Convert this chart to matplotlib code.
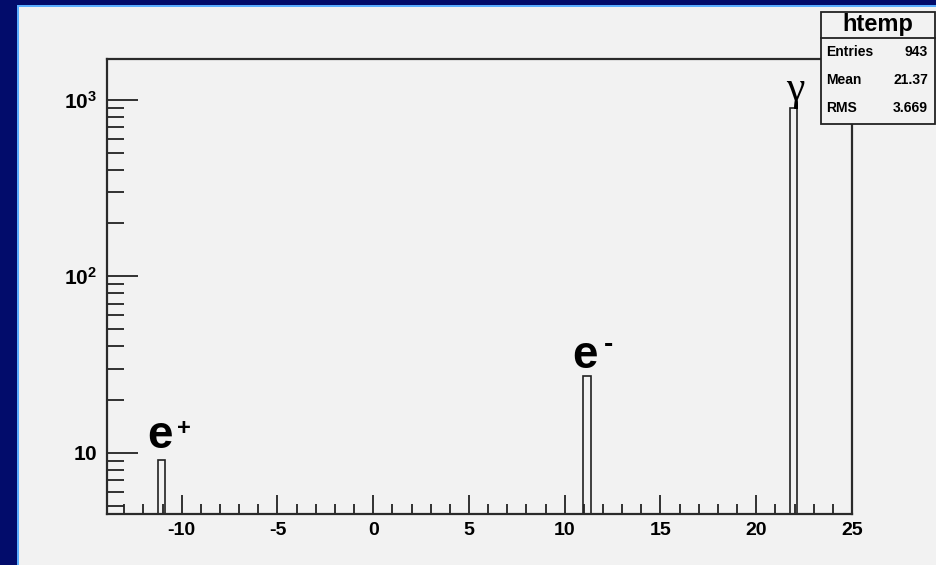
import matplotlib
matplotlib.use("Agg")
import matplotlib.pyplot as plt
from matplotlib.patches import Rectangle
from matplotlib.ticker import FixedLocator, FixedFormatter, LogLocator, MultipleLocator, NullFormatter

plt.rcParams['font.family'] = ['Liberation Sans', 'DejaVu Sans']
plt.rcParams['mathtext.fontset'] = 'custom'
plt.rcParams['mathtext.rm'] = 'Liberation Sans'
plt.rcParams['mathtext.bf'] = 'Liberation Sans:bold'

# histogram content (htemp)
centers = [-11.05, 11.15, 21.95]
counts = [9, 27, 900]
particles = ['e', 'e', 'γ']
charges = ['+', '-', '']
xticks = [-10, -5, 0, 5, 10, 15, 20, 25]
yticks = [10, 100, 1000]
yticklabels = [r'$\mathbf{10}$', r'$\mathbf{10^{2}}$', r'$\mathbf{10^{3}}$']
stats_names = ["Entries", "Mean", "RMS"]
stats_vals = ["943", "21.37", "3.669"]

W, H = 936, 565
fig = plt.figure(figsize=(W / 100, H / 100), dpi=100)
fig.patch.set_facecolor('#020c6b')

canvas = '#f2f2f2'
# canvas + light blue edge
fig.patches.append(Rectangle((17 / W, 0), 1, (H - 5) / H, transform=fig.transFigure,
                             facecolor='#5aaeff', edgecolor='none', zorder=-3))
fig.patches.append(Rectangle((19 / W, 0), 1, (H - 7) / H, transform=fig.transFigure,
                             facecolor=canvas, edgecolor='none', zorder=-2))

ax = fig.add_axes([107 / W, 51 / H, 745 / W, 455 / H])
ax.set_facecolor(canvas)

ax.bar(centers, counts, width=0.4, bottom=0.1, fill=False, edgecolor='#222222', linewidth=1.2)
ax.set_yscale('log')
ax.set_xlim(-13.9, 25)
ax.set_ylim(4.5, 1700)

for sp in ax.spines.values():
    sp.set_linewidth(1.6)
    sp.set_color('#2a2a2a')

ax.xaxis.set_major_locator(FixedLocator(xticks))
ax.xaxis.set_minor_locator(MultipleLocator(1))
ax.set_xticklabels([str(t) for t in xticks], fontsize=14, fontweight='bold')
ax.yaxis.set_major_locator(FixedLocator(yticks))
ax.yaxis.set_major_formatter(FixedFormatter(yticklabels))
ax.yaxis.set_minor_locator(LogLocator(base=10, subs=range(2, 10)))
ax.yaxis.set_minor_formatter(NullFormatter())

ax.tick_params(axis='x', which='major', direction='in', length=14, width=1.3, color='#222222', pad=6)
ax.tick_params(axis='x', which='minor', direction='in', length=7, width=1.3, color='#222222')
ax.tick_params(axis='y', which='major', direction='in', length=22, width=1.3, color='#222222', labelsize=15, pad=7)
ax.tick_params(axis='y', which='minor', direction='in', length=12, width=1.3, color='#222222')
ax.tick_params(top=False, right=False, which='both')

# particle labels above each peak (offsets in points)
for c, n, p, q in zip(centers, counts, particles, charges):
    if p == 'γ':
        ax.annotate(p, xy=(c, n), xytext=(1, -1), textcoords='offset points',
                    ha='center', va='bottom', fontsize=30, family='Liberation Serif')
        continue
    lift = 9.5 if q == '+' else 6.5
    ax.annotate(p, xy=(c, n), xytext=(-1, lift), textcoords='offset points',
                ha='center', va='baseline', fontsize=33, fontweight='bold')
    ax.annotate(q, xy=(c, n), xytext=(16, 23), textcoords='offset points',
                ha='center', va='center', fontsize=17 if q == '+' else 20, fontweight='bold')

# stats box
x0, x1 = 821 / W, 935 / W
y_top, y_sep, y_bot = 1 - 12 / H, 1 - 38 / H, 1 - 124 / H
fig.patches.append(Rectangle((x0, y_bot), x1 - x0, y_top - y_bot, transform=fig.transFigure,
                             facecolor=canvas, edgecolor='#222222', linewidth=1.3, zorder=5))
fig.lines.append(plt.Line2D([x0, x1], [y_sep, y_sep], transform=fig.transFigure,
                            color='#222222', linewidth=1.3, zorder=6))
fig.text((x0 + x1) / 2, (y_top + y_sep) / 2, "htemp", ha='center', va='center',
         fontsize=17, fontweight='bold', zorder=7)
rows_y = [52, 80, 108]
for name, val, ry in zip(stats_names, stats_vals, rows_y):
    fig.text(x0 + 5 / W, 1 - ry / H, name, ha='left', va='center', fontsize=10, fontweight='bold', zorder=7)
    fig.text(x1 - 7 / W, 1 - ry / H, val, ha='right', va='center', fontsize=10, fontweight='bold', zorder=7)

fig.savefig('out.png', dpi=100, facecolor=fig.get_facecolor())
